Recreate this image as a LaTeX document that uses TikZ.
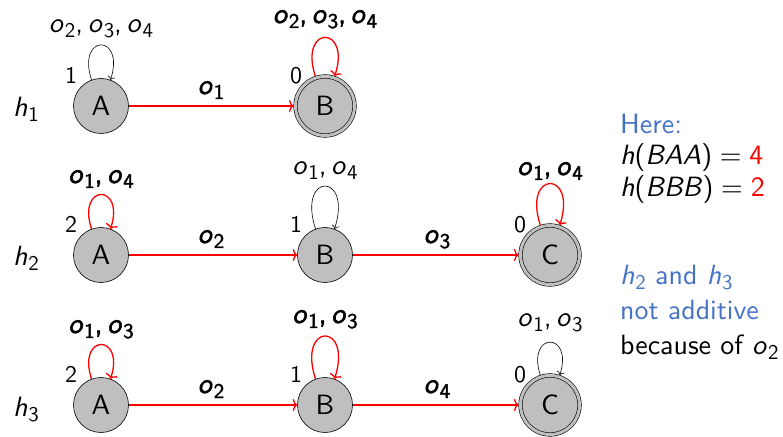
\documentclass[tikz,border=0pt]{standalone}
\usepackage{fontspec}
\setsansfont{lmsans10-regular.otf}[
  ItalicFont=lmsans10-oblique.otf,
  BoldFont=lmsans10-regular.otf, BoldFeatures={FakeBold=2},
  BoldItalicFont=lmsans10-oblique.otf, BoldItalicFeatures={FakeBold=2}]
\usetikzlibrary{arrows.meta}
\definecolor{stgray}{RGB}{191,191,191}
\definecolor{noteblue}{RGB}{68,114,196}
% italic letter with an upright, lowered index
\newcommand{\subidx}[1]{\kern0.03em\raisebox{-5bp}{\fontsize{21}{21}\selectfont#1}}
\newcommand{\ob}[1]{\textit{o}\subidx{#1}}
\newcommand{\hh}[1]{\textit{h}\subidx{#1}}
\begin{document}
\begin{tikzpicture}[x=1bp,y=1bp,
  every node/.style={font=\sffamily\fontsize{28}{33}\selectfont},
  st/.style={circle, draw=black, fill=stgray, line width=0.6bp,
             minimum size=55bp, inner sep=0pt},
  acc/.style={st, double=stgray, double distance=3bp, minimum size=59bp,
              outer sep=2bp},
  hit/.style={draw=red, line width=1.3bp, -{To[length=4.5bp,width=12bp]}},
  idle/.style={draw=black, line width=0.6bp, -{To[length=3.5bp,width=8bp]}},
  lab/.style={anchor=base, inner sep=0pt},
  bl/.style={lab, font=\sffamily\bfseries\fontsize{28}{33}\selectfont},
  num/.style={lab, font=\sffamily\fontsize{24}{28}\selectfont},
  note/.style={anchor=base west, inner sep=0pt}]
\useasboundingbox (0,0) rectangle (783,-437);

% states
\node[st]  (A1) at (101,-106) {A};
\node[acc] (B1) at (325,-106) {B};
\node[st]  (A2) at (101,-255) {A};
\node[st]  (B2) at (325,-255) {B};
\node[acc] (C2) at (550,-255) {C};
\node[st]  (A3) at (101,-405) {A};
\node[st]  (B3) at (325,-405) {B};
\node[acc] (C3) at (550,-405) {C};

% row names
\node[lab] (h1) at (26,-117) {\hh{1}};
\node[lab] (h2) at (26,-266) {\hh{2}};
\node[lab] (h3) at (26,-416) {\hh{3}};

% heuristic values
\node[num] (vA1) at (71,-84)  {1};
\node[num] (vB1) at (296,-84) {0};
\node[num] (vA2) at (71,-233)  {2};
\node[num] (vB2) at (296,-233) {1};
\node[num] (vC2) at (520,-233) {0};
\node[num] (vA3) at (71,-383)  {2};
\node[num] (vB3) at (296,-383) {1};
\node[num] (vC3) at (520,-383) {0};

% transitions between states
\draw[hit] (A1) -- (B1);
\draw[hit] (A2) -- (B2);
\draw[hit] (B2) -- (C2);
\draw[hit] (A3) -- (B3);
\draw[hit] (B3) -- (C3);
\node[bl] (e1)  at (211,-94)  {\ob{1}};
\node[bl] (e2)  at (211,-243) {\ob{2}};
\node[bl] (e3)  at (437,-243) {\ob{3}};
\node[bl] (e4)  at (211,-393) {\ob{2}};
\node[bl] (e5)  at (437,-393) {\ob{4}};

% self loops
\draw[idle] (A1.110) .. controls +(108:49) and +(72:49) .. (A1.70);
\draw[hit]  (B1.108) .. controls +(108:54) and +(72:54) .. (B1.72);
\draw[hit]  (A2.110) .. controls +(108:48) and +(72:48) .. (A2.70);
\draw[idle] (B2.110) .. controls +(108:60) and +(72:60) .. (B2.70);
\draw[hit]  (C2.108) .. controls +(108:58) and +(72:58) .. (C2.72);
\draw[hit]  (A3.110) .. controls +(108:48) and +(72:48) .. (A3.70);
\draw[hit]  (B3.110) .. controls +(108:60) and +(72:60) .. (B3.70);
\draw[idle] (C3.108) .. controls +(108:46) and +(72:46) .. (C3.72);

\node[lab] (lA1) at (101,-33)  {\ob{2},\,\ob{3},\,\ob{4}};
\node[bl]  (lB1) at (325,-23)  {\ob{2},\,\ob{3},\,\ob{4}};
\node[bl]  (lA2) at (101,-183) {\ob{1},\,\ob{4}};
\node[lab] (lB2) at (325,-175) {\ob{1},\,\ob{4}};
\node[bl]  (lC2) at (550,-175) {\ob{1},\,\ob{4}};
\node[bl]  (lA3) at (101,-333) {\ob{1},\,\ob{3}};
\node[bl]  (lB3) at (325,-323) {\ob{1},\,\ob{3}};
\node[lab] (lC3) at (550,-327) {\ob{1},\,\ob{3}};

% side notes
\node[note, text=noteblue] (n1) at (620,-134) {Here:};
\node[note] (n2) at (620,-165) {\textit{h}(\textit{BAA})\hspace{0.28em}=\hspace{0.28em}\textcolor{red}{4}};
\node[note] (n3) at (620,-197) {\textit{h}(\textit{BBB})\hspace{0.28em}=\hspace{0.28em}\textcolor{red}{2}};
\node[note, text=noteblue] (n4) at (620,-285) {\hh{2} and \hh{3}};
\node[note, text=noteblue] (n5) at (620,-320) {not additive};
\node[note] (n6) at (620,-355) {because of \ob{2}};
\end{tikzpicture}
\end{document}
